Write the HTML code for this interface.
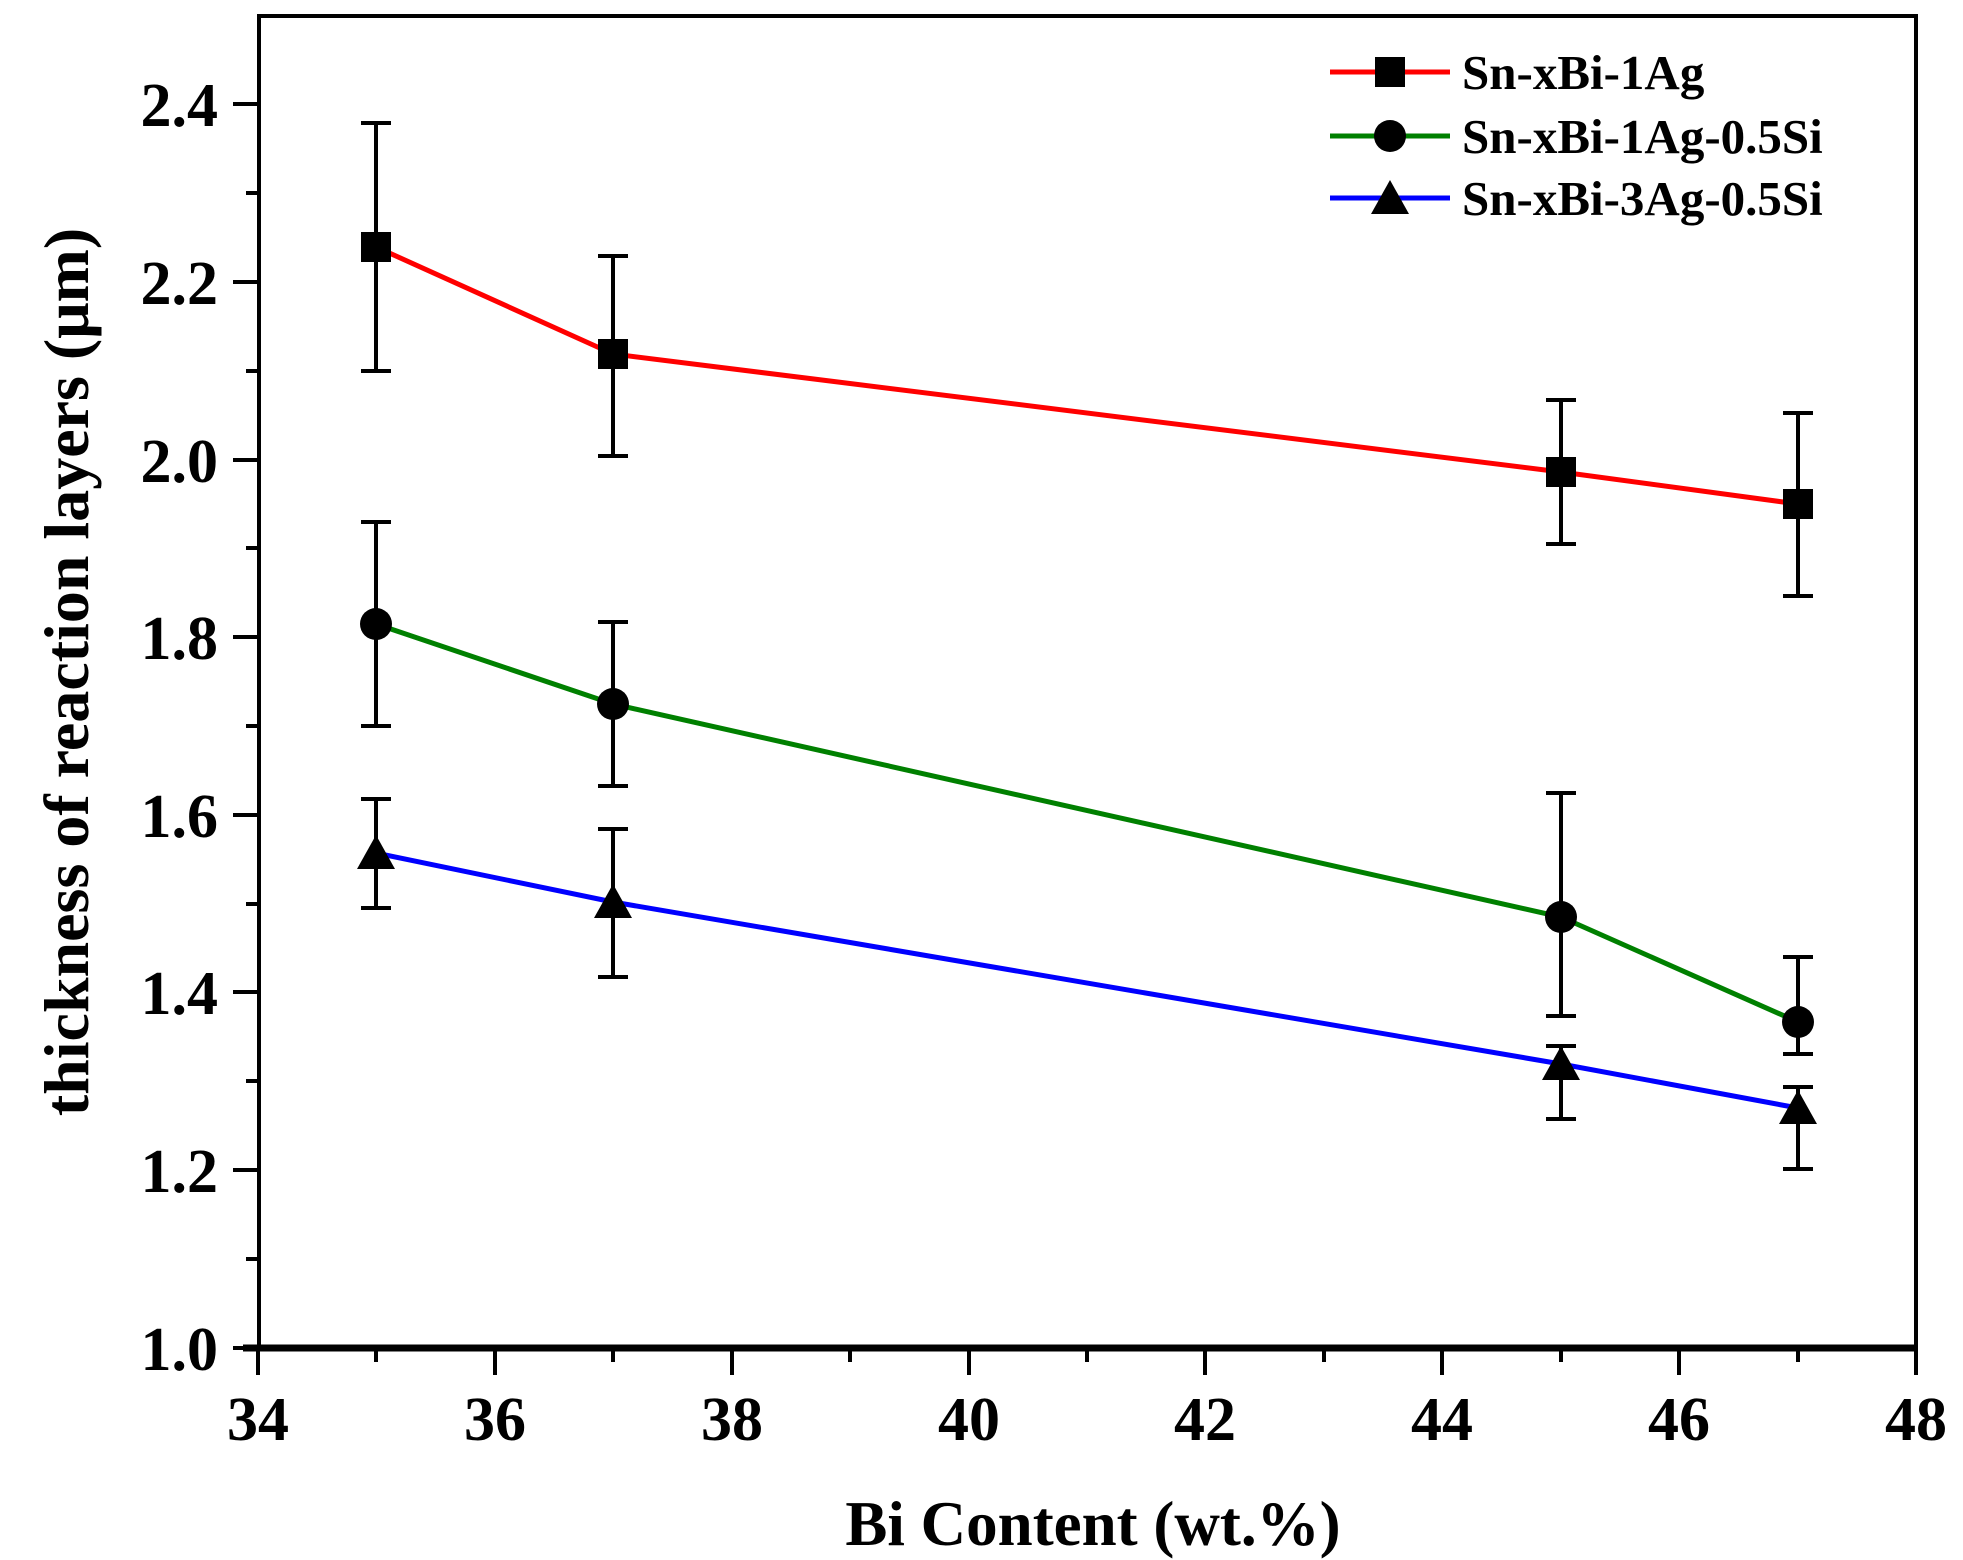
<!DOCTYPE html>
<html><head><meta charset="utf-8"><style>
html,body{margin:0;padding:0;background:#fff;}
svg{display:block;}
text{font-family:"Liberation Serif",serif;font-weight:bold;fill:#000;}
</style></head><body>
<svg width="1963" height="1560" viewBox="0 0 1963 1560" xmlns="http://www.w3.org/2000/svg">
<rect x="259" y="16" width="1657" height="1332" fill="none" stroke="#000" stroke-width="4"/>
<line x1="243" y1="1348" x2="1918" y2="1348" stroke="#000" stroke-width="7"/>
<g stroke="#000" stroke-width="4">
<line x1="233" y1="1348" x2="259" y2="1348"/>
<line x1="246" y1="1259" x2="259" y2="1259"/>
<line x1="233" y1="1170" x2="259" y2="1170"/>
<line x1="246" y1="1081" x2="259" y2="1081"/>
<line x1="233" y1="992" x2="259" y2="992"/>
<line x1="246" y1="904" x2="259" y2="904"/>
<line x1="233" y1="815" x2="259" y2="815"/>
<line x1="246" y1="726" x2="259" y2="726"/>
<line x1="233" y1="637" x2="259" y2="637"/>
<line x1="246" y1="548" x2="259" y2="548"/>
<line x1="233" y1="460" x2="259" y2="460"/>
<line x1="246" y1="371" x2="259" y2="371"/>
<line x1="233" y1="282" x2="259" y2="282"/>
<line x1="246" y1="193" x2="259" y2="193"/>
<line x1="233" y1="104" x2="259" y2="104"/>
</g>
<g font-size="62" text-anchor="end">
<text x="218" y="1370">1.0</text>
<text x="218" y="1192">1.2</text>
<text x="218" y="1014">1.4</text>
<text x="218" y="837">1.6</text>
<text x="218" y="659">1.8</text>
<text x="218" y="482">2.0</text>
<text x="218" y="304">2.2</text>
<text x="218" y="126">2.4</text>
</g>
<g stroke="#000" stroke-width="4">
<line x1="258" y1="1348" x2="258" y2="1375"/>
<line x1="376" y1="1348" x2="376" y2="1362"/>
<line x1="495" y1="1348" x2="495" y2="1375"/>
<line x1="613" y1="1348" x2="613" y2="1362"/>
<line x1="732" y1="1348" x2="732" y2="1375"/>
<line x1="850" y1="1348" x2="850" y2="1362"/>
<line x1="969" y1="1348" x2="969" y2="1375"/>
<line x1="1087" y1="1348" x2="1087" y2="1362"/>
<line x1="1205" y1="1348" x2="1205" y2="1375"/>
<line x1="1324" y1="1348" x2="1324" y2="1362"/>
<line x1="1442" y1="1348" x2="1442" y2="1375"/>
<line x1="1561" y1="1348" x2="1561" y2="1362"/>
<line x1="1679" y1="1348" x2="1679" y2="1375"/>
<line x1="1798" y1="1348" x2="1798" y2="1362"/>
<line x1="1916" y1="1348" x2="1916" y2="1375"/>
</g>
<g font-size="62" text-anchor="middle">
<text x="258" y="1440">34</text>
<text x="495" y="1440">36</text>
<text x="732" y="1440">38</text>
<text x="969" y="1440">40</text>
<text x="1205" y="1440">42</text>
<text x="1442" y="1440">44</text>
<text x="1679" y="1440">46</text>
<text x="1916" y="1440">48</text>
</g>
<text x="1093" y="1545" font-size="63" text-anchor="middle">Bi Content (wt.%)</text>
<text transform="translate(88,672) rotate(-90)" font-size="64" text-anchor="middle">thickness of reaction layers (μm)</text>

<g stroke="#000" stroke-width="4" fill="none">
<path d="M376 123V371M361 123H391M361 371H391"/>
<path d="M613 256V456M598 256H628M598 456H628"/>
<path d="M1561 400V544M1546 400H1576M1546 544H1576"/>
<path d="M1798 413V596M1783 413H1813M1783 596H1813"/>
<path d="M376 522V726M361 522H391M361 726H391"/>
<path d="M613 622V786M598 622H628M598 786H628"/>
<path d="M1561 793V1016M1546 793H1576M1546 1016H1576"/>
<path d="M1798 957V1054M1783 957H1813M1783 1054H1813"/>
<path d="M376 799V908M361 799H391M361 908H391"/>
<path d="M613 829V977M598 829H628M598 977H628"/>
<path d="M1561 1046V1119M1546 1046H1576M1546 1119H1576"/>
<path d="M1798 1087V1169M1783 1087H1813M1783 1169H1813"/>
</g>
<polyline points="376,247 613,354 1561,472 1798,504" fill="none" stroke="#ff0000" stroke-width="5"/>
<polyline points="376,624 613,704 1561,917 1798,1022" fill="none" stroke="#008000" stroke-width="5"/>
<polyline points="376,853 613,902 1561,1064 1798,1108" fill="none" stroke="#0000ff" stroke-width="5"/>
<g fill="#000">
<rect x="361" y="232" width="30" height="30"/>
<rect x="598" y="339" width="30" height="30"/>
<rect x="1546" y="457" width="30" height="30"/>
<rect x="1783" y="489" width="30" height="30"/>
<circle cx="376" cy="624" r="16"/>
<circle cx="613" cy="704" r="16"/>
<circle cx="1561" cy="917" r="16"/>
<circle cx="1798" cy="1022" r="16"/>
<polygon points="376,835 395,869 357,869"/>
<polygon points="613,884 632,918 594,918"/>
<polygon points="1561,1046 1580,1080 1542,1080"/>
<polygon points="1798,1090 1817,1124 1779,1124"/>
</g>
<line x1="1330" y1="72" x2="1450" y2="72" stroke="#ff0000" stroke-width="5"/>
<rect x="1375" y="57" width="30" height="30" fill="#000"/>
<line x1="1330" y1="136" x2="1450" y2="136" stroke="#008000" stroke-width="5"/>
<circle cx="1390" cy="136" r="16" fill="#000"/>
<line x1="1330" y1="198" x2="1450" y2="198" stroke="#0000ff" stroke-width="5"/>
<polygon points="1390,180 1409,214 1371,214" fill="#000"/>
<g font-size="49">
<text x="1462" y="89">Sn-xBi-1Ag</text>
<text x="1462" y="153">Sn-xBi-1Ag-0.5Si</text>
<text x="1462" y="215">Sn-xBi-3Ag-0.5Si</text>
</g>
</svg>
</body></html>
